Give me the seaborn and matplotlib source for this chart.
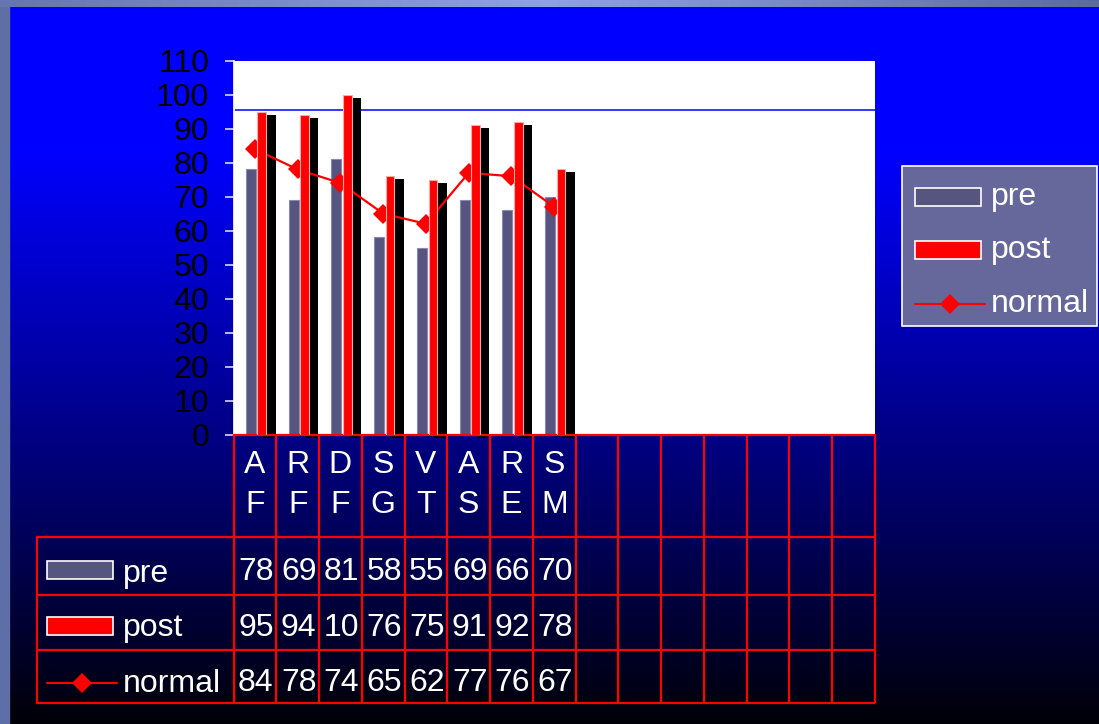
import numpy as np
import matplotlib
matplotlib.use("Agg")
import matplotlib.pyplot as plt
import matplotlib.transforms as mtransforms
from matplotlib.patches import Rectangle
import seaborn as sns

# ---- data -------------------------------------------------------------
categories = ["AF", "RF", "DF", "SG", "VT", "AS", "RE", "SM"]
pre = [78, 69, 81, 58, 55, 69, 66, 70]
post = [95, 94, 100, 76, 75, 91, 92, 78]
normal = [84, 78, 74, 65, 62, 77, 76, 67]
series_names = ["pre", "post", "normal"]
y_ticks = list(range(0, 111, 10))
target_level = 95.5
n_slots = 15

# ---- colours ----------------------------------------------------------
PRE_C = "#55557f"
POST_C = "#ff0000"
GRID_RED = "#ff0000"
LEGEND_FC = "#66689c"
FS = 23

sns.set_theme(style="white")
plt.rcParams["font.family"] = ["Liberation Sans", "DejaVu Sans"]

W, H = 1099, 724
fig = plt.figure(figsize=(W / 100, H / 100), dpi=100)

# ---- slide background: blue fading to black, with a slate frame --------
bg = fig.add_axes([0, 0, 1, 1])
bg.axis("off")
ys = np.linspace(7, H, 700)
blue = np.interp(ys, [7, 150, H], [255, 255, 8]) / 255.0
grad = np.zeros((len(ys), 1, 3))
grad[:, 0, 2] = blue
bg.imshow(grad, extent=(9, W, H, 7), aspect="auto", interpolation="bilinear", zorder=0)
bg.add_patch(Rectangle((0, 0), 9, H, color="#5e6fa8", zorder=1))
xs = np.linspace(0, 1, 400)
top = np.zeros((1, len(xs), 3))
top[0, :, 0] = np.interp(xs, [0, 0.5, 1], [0.40, 0.56, 0.36])
top[0, :, 1] = np.interp(xs, [0, 0.5, 1], [0.46, 0.63, 0.42])
top[0, :, 2] = np.interp(xs, [0, 0.5, 1], [0.68, 0.90, 0.62])
bg.imshow(top, extent=(0, W, 7, 0), aspect="auto", interpolation="bilinear", zorder=1)
bg.set_xlim(0, W)
bg.set_ylim(H, 0)

# ---- plot area ----------------------------------------------------------
X0, X1 = 233.5, 875.0
YB, YT = 434.5, 60.7
ax = fig.add_axes([X0 / W, 1 - YB / H, (X1 - X0) / W, (YB - YT) / H])
ax.set_facecolor("white")
idx = np.arange(len(categories))

pre_off, post_off, shadow_off = -0.095, 0.16, 0.34

# drop shadow behind the post bars
shadow = ax.bar(idx + shadow_off, post, width=0.29, color="black",
                linewidth=0, zorder=1, clip_on=False)
shift = mtransforms.ScaledTranslation(0, -3 / 100, fig.dpi_scale_trans)
for p in shadow:
    p.set_transform(ax.transData + shift)

sns.barplot(x=idx + pre_off, y=pre, native_scale=True, width=0.235,
            color=PRE_C, saturation=1, edgecolor="#8a8ab0", linewidth=0.8,
            errorbar=None, zorder=2, ax=ax)
sns.lineplot(x=idx, y=normal, color="red", marker="D", markersize=10,
             markeredgewidth=0, linewidth=1.6, legend=False, zorder=3, ax=ax)
sns.barplot(x=idx + post_off, y=post, native_scale=True, width=0.2,
            color=POST_C, saturation=1, edgecolor="#ffaaaa", linewidth=0.8,
            errorbar=None, zorder=4, ax=ax)
ax.axhline(target_level, color="#0000ff", linewidth=1.1, zorder=0.5)

ax.set_xlim(-0.5, n_slots - 0.5)
ax.set_ylim(0, 110)
ax.set_yticks(y_ticks)
ax.set_xticks([])
ax.set_xlabel("")
ax.set_ylabel("")
ax.tick_params(axis="y", left=True, length=6.5, width=1.2, color="#d8d8f0",
               labelsize=FS, labelcolor="black", pad=11)
for s in ("top", "right"):
    ax.spines[s].set_visible(False)
ax.spines["left"].set_color("white")
ax.spines["bottom"].set_color(GRID_RED)
ax.spines["bottom"].set_linewidth(1.6)

# ---- data table and legends ----------------------------------------------
ov = fig.add_axes([0, 0, 1, 1])
ov.set_xlim(0, W)
ov.set_ylim(H, 0)
ov.axis("off")

col_w = (X1 - X0) / n_slots
edges = X0 + col_w * np.arange(n_slots + 1)
row_lines = [537, 595, 650, 703]
TL = 37
for e in edges:
    ov.plot([e, e], [YB, row_lines[-1]], color=GRID_RED, lw=1.6, solid_capstyle="butt")
for r in row_lines:
    ov.plot([TL, X1], [r, r], color=GRID_RED, lw=1.6, solid_capstyle="butt")
ov.plot([TL, TL], [row_lines[0], row_lines[-1]], color=GRID_RED, lw=1.6)

txt = dict(color="white", fontsize=FS, ha="center", va="center")
for i, c in enumerate(categories):
    ov.text(edges[i] + col_w / 2, 485, "\n".join(c), linespacing=1.42, **txt)

row_y = [572, 628, 683]
for vals, ry in zip([pre, post, normal], row_y):
    for i, v in enumerate(vals):
        ov.text(edges[i] + col_w / 2 + 1, ry, str(v)[:2], **txt)


def legend_key(axis, kind, x, y, w=66, h=18):
    if kind == "pre":
        axis.add_patch(Rectangle((x, y - h / 2), w, h, fc=PRE_C, ec="white", lw=1.2))
    elif kind == "post":
        axis.add_patch(Rectangle((x, y - h / 2), w, h, fc=POST_C, ec="white", lw=1.2))
    else:
        axis.plot([x, x + w + 4], [y, y], color="red", lw=1.5)
        axis.plot([x + (w + 4) / 2], [y], marker="D", markersize=10, color="red", mew=0)


# legend column of the table
for name, ky, ty in zip(series_names, [570, 626, 683], [574, 628, 684]):
    legend_key(ov, name, 47, ky)
    ov.text(123, ty, name, color="white", fontsize=FS, ha="left", va="center")

# side legend
ov.add_patch(Rectangle((902, 166), 195, 160, fc=LEGEND_FC, ec="white", lw=1.2))
for name, ky in zip(series_names, [197, 250, 304]):
    legend_key(ov, name, 915, ky)
    ov.text(991, ky, name, color="white", fontsize=FS, ha="left", va="center")

fig.savefig("out.png", dpi=100)
